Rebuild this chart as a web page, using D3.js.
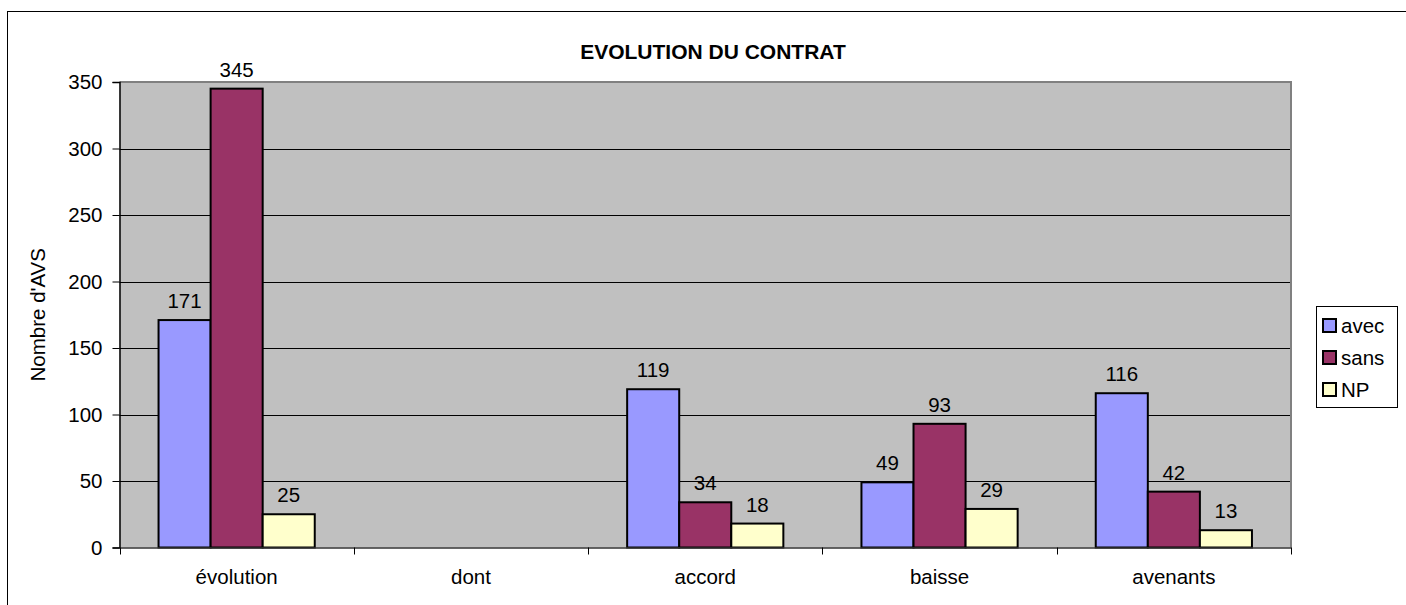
<!DOCTYPE html>
<html><head><meta charset="utf-8">
<script src="https://cdn.jsdelivr.net/npm/d3@7"></script>
<style>body{margin:0;background:#fff}svg{display:block;font-family:"Liberation Sans",Arial,sans-serif}</style>
</head><body>
<svg id="c" width="1406" height="605"></svg>
<script>
const categories = ["évolution", "dont", "accord", "baisse", "avenants"];
const seriesNames = ["avec", "sans", "NP"];
const avec = [171, null, 119, 49, 116];
const sans = [345, null, 34, 93, 42];
const np = [25, null, 18, 29, 13];
const yTicks = [0, 50, 100, 150, 200, 250, 300, 350];
const colors = ["#9999FF", "#993366", "#FFFFCC"];
const title = "EVOLUTION DU CONTRAT";
const yTitle = "Nombre d'AVS";

const values = [avec, sans, np];
const svg = d3.select("#c");
const L = 119.5, R = 1291, T = 82, B = 547.5;
const FS = 20.5;

svg.append("rect").attr("x", 7.5).attr("y", 11.5).attr("width", 1420).attr("height", 640)
  .attr("fill", "#fff").attr("stroke", "#000").attr("stroke-width", 1);

const x0 = d3.scaleBand().domain(categories).range([L, R]).padding(0);
const x1 = d3.scaleBand().domain(seriesNames).range([x0.bandwidth() / 6, x0.bandwidth() * 5 / 6]).padding(0);
const y = d3.scaleLinear().domain([0, 350]).range([B, T]);

// plot area
svg.append("rect").attr("x", L).attr("y", T).attr("width", R - L).attr("height", B - T).attr("fill", "#C0C0C0");
// gridlines
svg.append("g").selectAll("line").data(yTicks.filter(d => d > 0 && d < 350)).join("line")
  .attr("x1", L).attr("x2", R).attr("y1", d => Math.round(y(d)) + 0.5).attr("y2", d => Math.round(y(d)) + 0.5)
  .attr("stroke", "#000").attr("stroke-width", 1);
// plot border top/right
svg.append("path").attr("d", `M${L},${T}H${R}V${B}`).attr("fill", "none").attr("stroke", "#808080").attr("stroke-width", 2);

// bars
const gs = svg.append("g").selectAll("g").data(categories).join("g")
  .attr("transform", d => `translate(${x0(d)},0)`);
gs.selectAll("rect").data((c, i) => seriesNames.map((s, j) => ({ s, j, v: values[j][i] })).filter(d => d.v != null))
  .join("rect")
  .attr("x", d => x1(d.s)).attr("width", x1.bandwidth())
  .attr("y", d => y(d.v)).attr("height", d => y(0) - y(d.v))
  .attr("fill", d => colors[d.j]).attr("stroke", "#000").attr("stroke-width", 2);
gs.selectAll("text").data((c, i) => seriesNames.map((s, j) => ({ s, j, v: values[j][i] })).filter(d => d.v != null))
  .join("text")
  .attr("x", d => x1(d.s) + x1.bandwidth() / 2).attr("y", d => y(d.v) - 12)
  .attr("text-anchor", "middle").attr("font-size", FS).attr("fill", "#000").text(d => d.v);

// y axis
const ya = svg.append("g").attr("transform", `translate(${L},0)`)
  .call(d3.axisLeft(y).tickValues(yTicks).tickSize(7).tickPadding(10));
ya.select(".domain").attr("stroke", "#000").attr("stroke-width", 1.5);
ya.selectAll(".tick line").attr("stroke", "#000");
ya.selectAll("text").attr("font-size", FS).attr("font-family", "Liberation Sans, Arial, sans-serif").attr("fill", "#000");

// x axis
const xa = svg.append("g").attr("transform", `translate(0,${B})`)
  .call(d3.axisBottom(x0).tickSize(0).tickPadding(22));
xa.select(".domain").attr("stroke", "#333").attr("stroke-width", 1.5);
xa.selectAll("text").attr("font-size", FS).attr("font-family", "Liberation Sans, Arial, sans-serif").attr("fill", "#000");
const bounds = categories.map(c => x0(c)).concat([R]);
xa.append("g").selectAll("line").data(bounds).join("line")
  .attr("x1", d => Math.round(d) + 0.5).attr("x2", d => Math.round(d) + 0.5).attr("y1", 0).attr("y2", 7)
  .attr("stroke", "#000");

// title
svg.append("text").attr("x", 713).attr("y", 59).attr("text-anchor", "middle")
  .attr("font-size", 21).attr("font-weight", "bold").text(title);
svg.append("text").attr("transform", `translate(45,${(T + B) / 2}) rotate(-90)`)
  .attr("text-anchor", "middle").attr("font-size", FS).text(yTitle);

// legend
const lg = svg.append("g").attr("transform", "translate(1316,306)");
lg.append("rect").attr("x", 0.5).attr("y", 0.5).attr("width", 81).attr("height", 101)
  .attr("fill", "#fff").attr("stroke", "#000").attr("stroke-width", 1);
const li = lg.selectAll("g").data(seriesNames).join("g").attr("transform", (d, i) => `translate(0,${13 + i * 32})`);
li.append("rect").attr("x", 7).attr("y", 0).attr("width", 13).attr("height", 13)
  .attr("fill", (d, i) => colors[i]).attr("stroke", "#000").attr("stroke-width", 2);
li.append("text").attr("x", 25).attr("y", 14).attr("font-size", FS).text(d => d);
</script>
</body></html>
